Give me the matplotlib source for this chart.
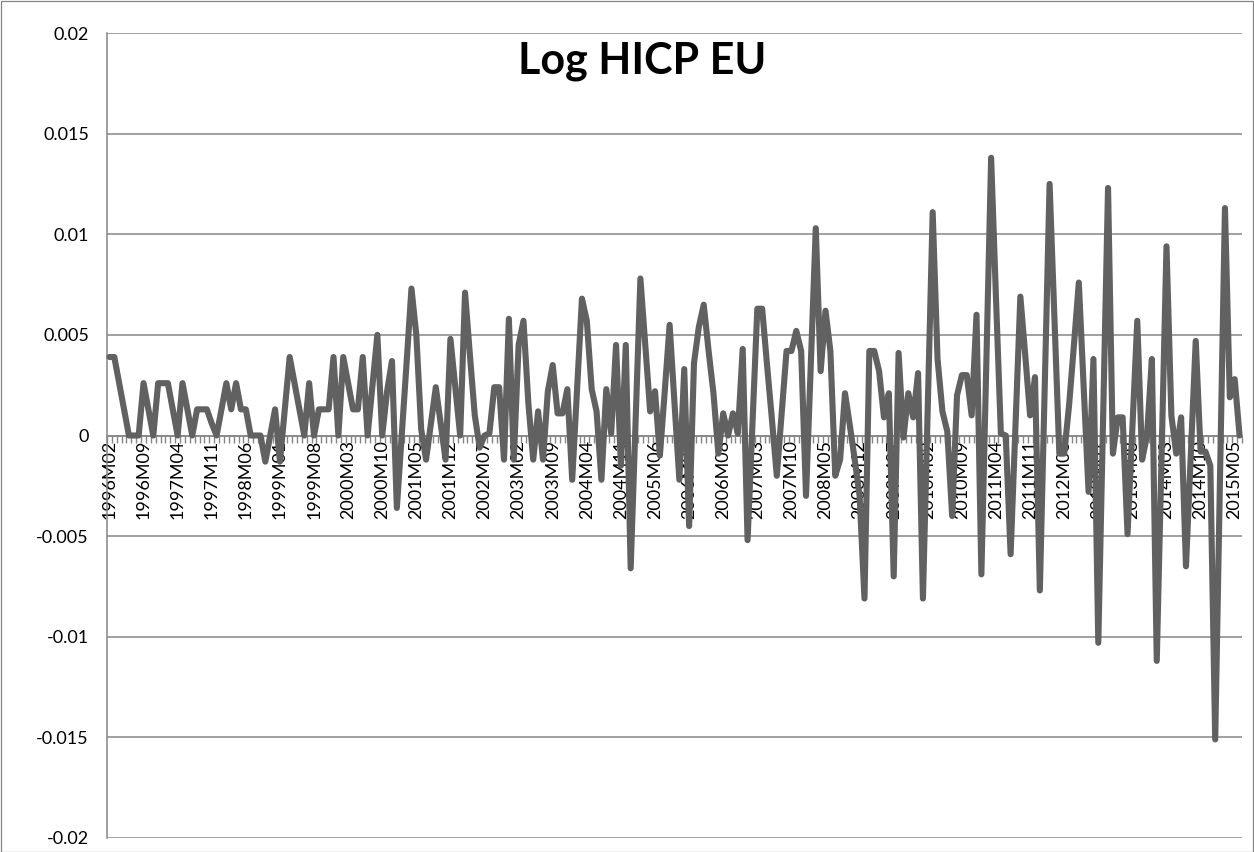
import matplotlib
matplotlib.use("Agg")
import matplotlib.pyplot as plt
from matplotlib.ticker import FixedLocator, NullFormatter
from matplotlib.patches import Rectangle
import numpy as np

plt.rcParams['font.family'] = ['Lato', 'DejaVu Sans']

# monthly log differences, 1996M02 ... 2015M06
values = [
    .0039, .0039, .0026, .0013, 0, 0, 0, .0026, .0013, 0, .0026, .0026,
    .0026, .0013, 0, .0026, .0013, 0, .0013, .0013, .0013, .0006, 0, .0013,
    .0026, .0013, .0026, .0013, .0013, 0, 0, 0, -.0013, 0, .0013, -.0013,
    .0013, .0039, .0026, .0013, 0, .0026, 0, .0013, .0013, .0013, .0039, 0,
    .0039, .0026, .0013, .0013, .0039, 0, .0025, .0050, 0, .0022, .0037, -.0036,
    0, .0036, .0073, .0050, .0003, -.0012, .0006, .0024, .0006, -.0012, .0048, .0024,
    0, .0071, .0040, .0010, -.0006, 0, .0001, .0024, .0024, -.0012, .0058, -.0012,
    .0045, .0057, .0016, -.0012, .0012, -.0012, .0022, .0035, .0011, .0011, .0023, -.0022,
    .0023, .0068, .0057, .0023, .0012, -.0022, .0023, .0001, .0045, -.0015, .0045, -.0066,
    .0006, .0078, .0045, .0012, .0022, -.0010, .0022, .0055, .0016, -.0022, .0033, -.0045,
    .0036, .0054, .0065, .0042, .0021, -.0009, .0011, 0, .0011, .0001, .0043, -.0052,
    .0005, .0063, .0063, .0035, .0008, -.0020, .0011, .0042, .0042, .0052, .0042, -.0030,
    .0036, .0103, .0032, .0062, .0042, -.0020, -.0012, .0021, .0005, -.0012, -.0030, -.0081,
    .0042, .0042, .0032, .0009, .0021, -.0070, .0041, -.0001, .0021, .0009, .0031, -.0081,
    .0015, .0111, .0038, .0012, .0002, -.0040, .0020, .0030, .0030, .0010, .0060, -.0069,
    .0035, .0138, .0068, .0001, 0, -.0059, .0005, .0069, .0040, .0010, .0029, -.0077,
    .0024, .0125, .0058, -.0009, -.0009, .0015, .0045, .0076, .0024, -.0028, .0038, -.0103,
    .0010, .0123, -.0009, .0009, .0009, -.0049, .0004, .0057, -.0012, 0, .0038, -.0112,
    -.0009, .0094, .0010, -.0009, .0009, -.0065, -.0009, .0047, -.0008, -.0008, -.0015, -.0151,
    -.0019, .0113, .0019, .0028, 0,
]

tick_labels = ["1996M02", "1996M09", "1997M04", "1997M11", "1998M06", "1999M01",
               "1999M08", "2000M03", "2000M10", "2001M05", "2001M12", "2002M07",
               "2003M02", "2003M09", "2004M04", "2004M11", "2005M06", "2006M01",
               "2006M08", "2007M03", "2007M10", "2008M05", "2008M12", "2009M07",
               "2010M02", "2010M09", "2011M04", "2011M11", "2012M06", "2013M01",
               "2013M08", "2014M03", "2014M10", "2015M05"]
label_step = 7

y_ticks = [-0.02, -0.015, -0.01, -0.005, 0, 0.005, 0.01, 0.015, 0.02]
y_tick_labels = ["-0.02", "-0.015", "-0.01", "-0.005", "0", "0.005", "0.01", "0.015", "0.02"]

title = "Log HICP EU"

W, H = 1254, 852
fig = plt.figure(figsize=(W / 100, H / 100), dpi=100)
fig.patch.set_facecolor("white")
fig.patches.append(Rectangle((0.5 / W, 0.5 / H), 1 - 1.5 / W, 1 - 1.5 / H,
                             transform=fig.transFigure, fill=False,
                             edgecolor="#868686", lw=0.9))

L, R, T, B = 107, 1242, 33, 838
ax = fig.add_axes([L / W, 1 - B / H, (R - L) / W, (B - T) / H])

n = len(values)
x = np.arange(n)
grid_c = "#868686"

ax.plot(x, values, color="#616161", lw=4.4, solid_joinstyle="round",
        solid_capstyle="round", zorder=3, clip_on=False)

ax.set_xlim(-0.5, n - 0.5)
ax.set_ylim(-0.02, 0.02)

ax.set_yticks(y_ticks)
ax.set_yticklabels(y_tick_labels)
ax.yaxis.grid(True, color=grid_c, lw=1.1)
ax.set_axisbelow(True)
ax.tick_params(axis="y", length=0, pad=13, labelsize=13, labelcolor="black")

for s in ["top", "right"]:
    ax.spines[s].set_visible(False)
ax.spines["left"].set_color(grid_c)
ax.spines["left"].set_linewidth(1.1)
ax.spines["bottom"].set_position(("data", 0))
ax.spines["bottom"].set_color(grid_c)
ax.spines["bottom"].set_linewidth(1.1)

major_pos = [i * label_step for i in range(len(tick_labels))]
ax.set_xticks(major_pos)
ax.set_xticklabels(tick_labels, rotation=90, va="top", ha="center")
ax.xaxis.set_minor_locator(FixedLocator(np.arange(-0.5, n, 1.0)))
ax.xaxis.set_minor_formatter(NullFormatter())
ax.tick_params(axis="x", which="major", length=0, pad=3, labelsize=13)
ax.tick_params(axis="x", which="minor", length=5, width=1.0, color=grid_c,
               direction="out")

fig.text(0.512, 0.928, title, ha="center", va="center", fontsize=31,
         fontweight="bold")

fig.savefig("out.png", dpi=100, facecolor="white")
